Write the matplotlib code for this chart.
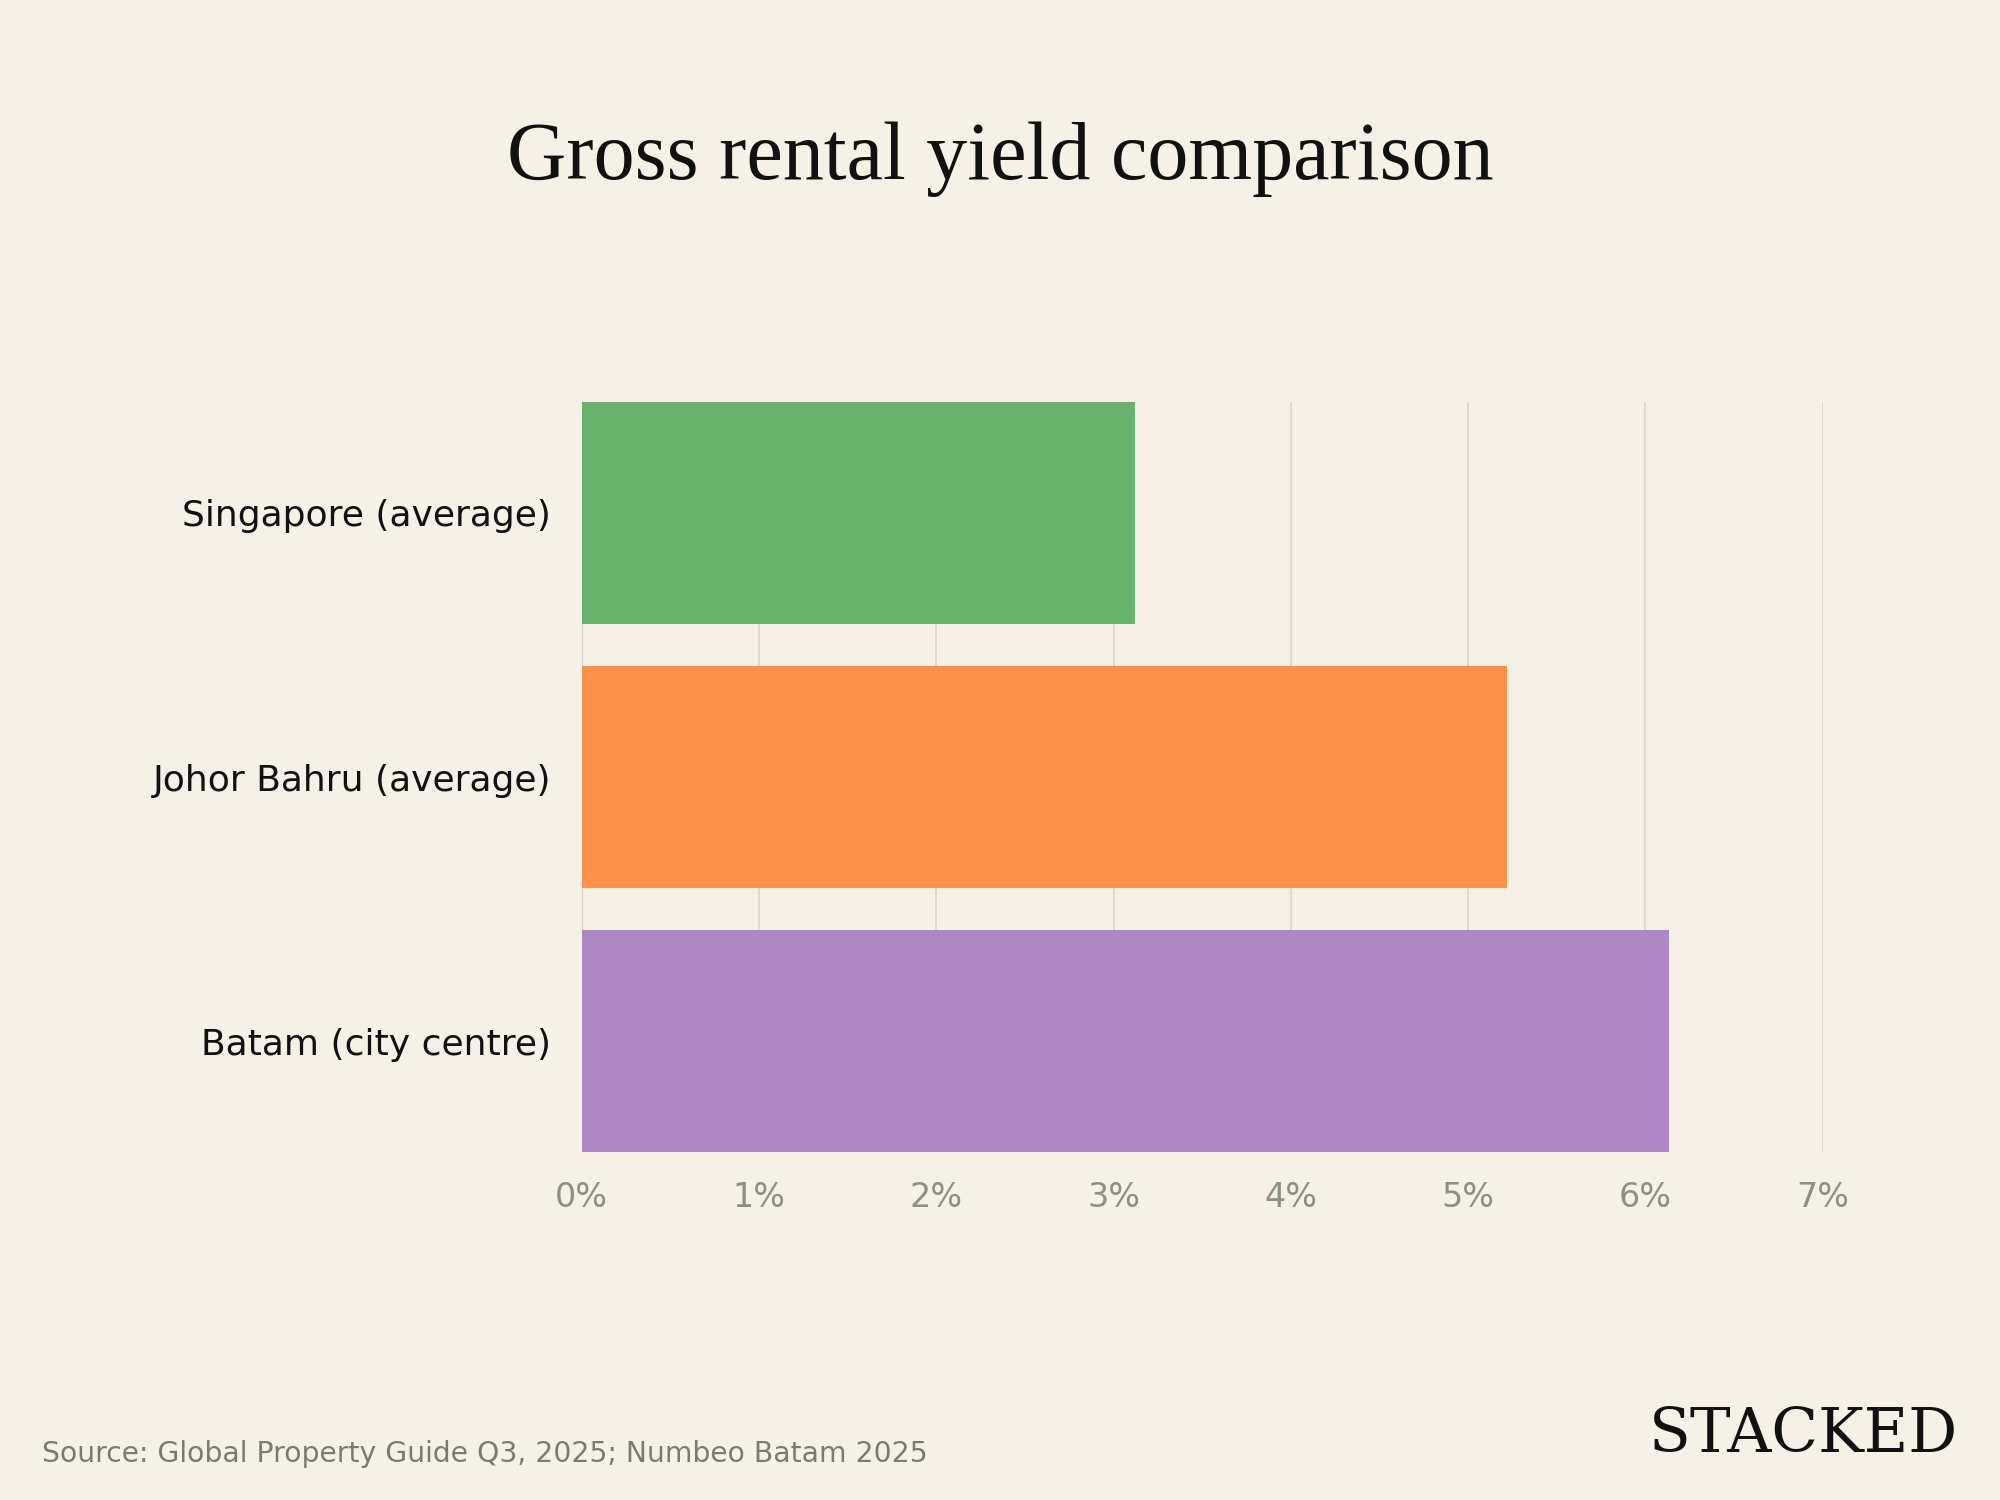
import matplotlib.pyplot as plt

# data
categories = ["Singapore (average)", "Johor Bahru (average)", "Batam (city centre)"]
yields = [3.12, 5.22, 6.13]
colors = ["#68b26c", "#fd9149", "#ad88c5"]
xticks = [0, 1, 2, 3, 4, 5, 6, 7]

bg = "#f5f1e6"

fig = plt.figure(figsize=(20, 15), dpi=100, facecolor=bg)
ax = fig.add_axes([0.2908, 0.232, 0.6206, 0.5])
ax.set_facecolor(bg)

y = list(range(len(categories)))
ax.barh(y, yields, height=0.84, color=colors, zorder=3)

ax.set_xlim(0, 7)
ax.set_ylim(len(categories) - 1 + 0.42, -0.42)
ax.set_xticks(xticks)
ax.set_xticklabels([f"{t}%" for t in xticks])
ax.set_yticks(y)
ax.set_yticklabels(categories)

ax.grid(axis="x", color="#d9d5c9", linewidth=1.2, zorder=0)
ax.axvline(0, color="#b8b5ab", linewidth=1.2, zorder=1)
for s in ax.spines.values():
    s.set_visible(False)
ax.tick_params(axis="both", length=0)
ax.tick_params(axis="x", pad=21, labelsize=24, labelcolor="#8a9182")
ax.tick_params(axis="y", pad=22, labelsize=26, labelcolor="#111111")

fig.text(0.5, 0.894, "Gross rental yield comparison", ha="center", va="center",
         fontsize=59, family="Liberation Serif", color="#111111")
fig.text(0.021, 0.031, "Source: Global Property Guide Q3, 2025; Numbeo Batam 2025",
         ha="left", va="center", fontsize=20.3, color="#7a7a74")
fig.text(0.979, 0.043, "STACKED", ha="right", va="center",
         fontsize=44, family="DejaVu Serif", color="#111111")

fig.savefig("out.png", dpi=100, facecolor=bg)
